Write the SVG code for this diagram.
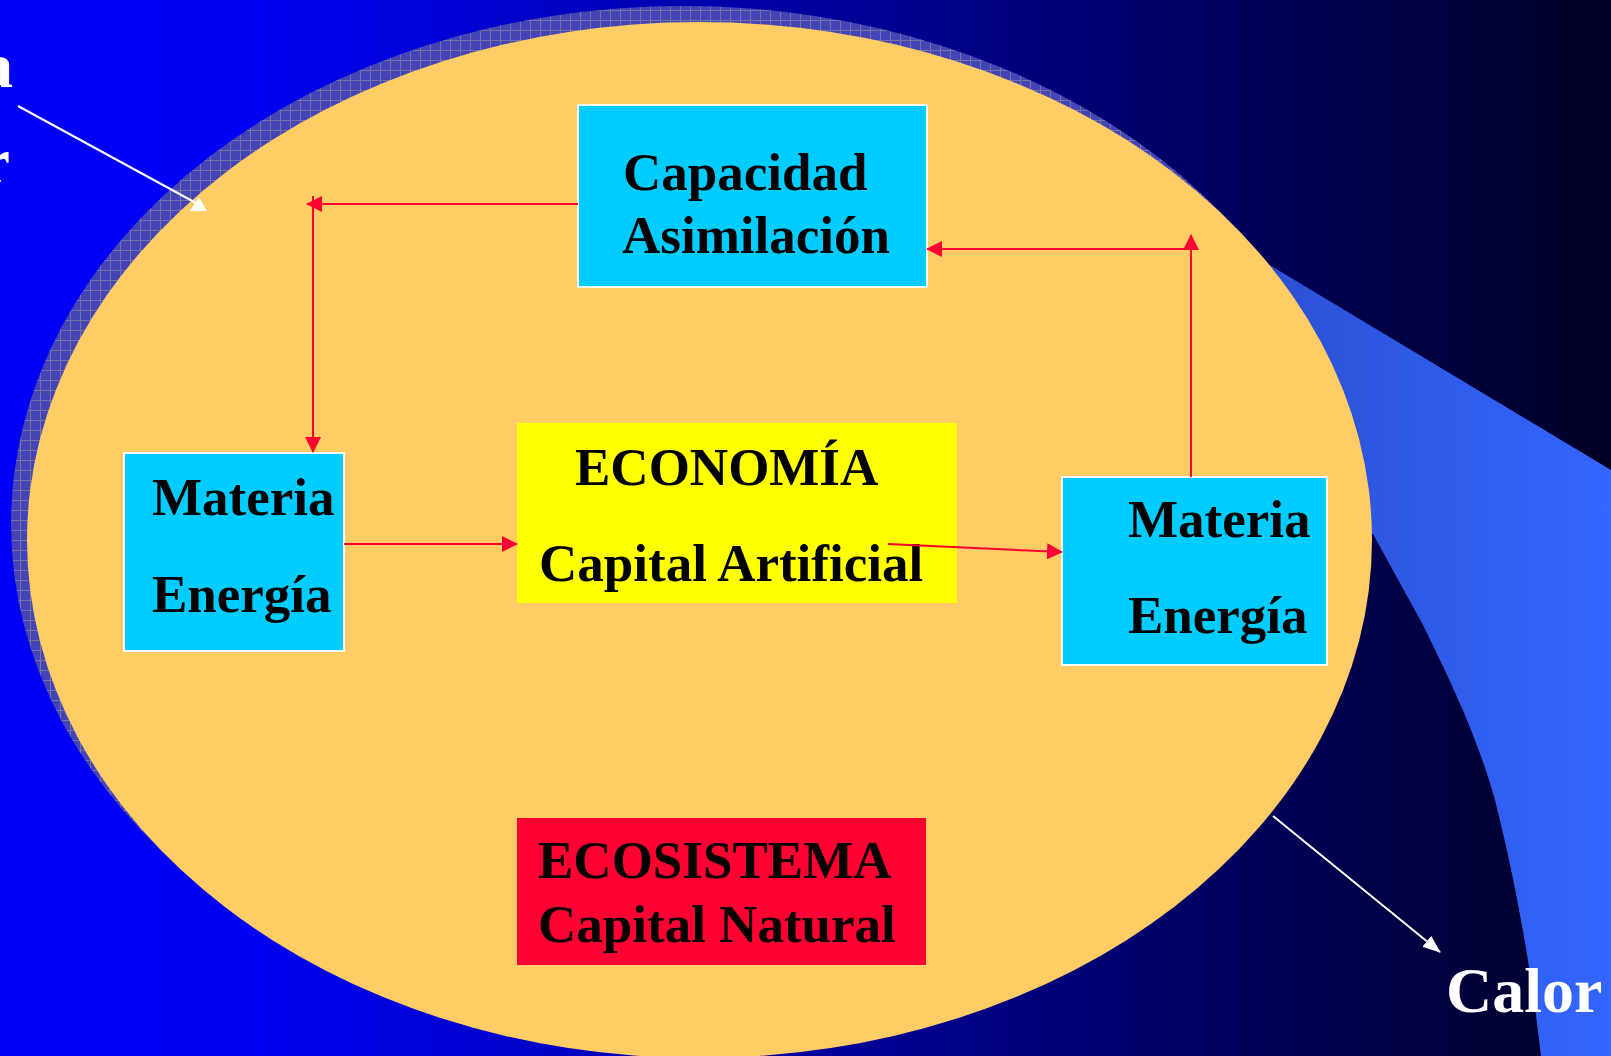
<svg xmlns="http://www.w3.org/2000/svg" width="1611" height="1056" viewBox="0 0 1611 1056">
  <defs>
    <linearGradient id="bg" gradientUnits="userSpaceOnUse" x1="0" y1="0" x2="1611" y2="0">
      <stop offset="0" stop-color="#0000f8"/>
      <stop offset="0.15" stop-color="#0000f4"/>
      <stop offset="1" stop-color="#000024"/>
    </linearGradient>
    <linearGradient id="wedge" gradientUnits="userSpaceOnUse" x1="1260" y1="0" x2="1611" y2="0">
      <stop offset="0" stop-color="#2b50d2"/>
      <stop offset="1" stop-color="#3366ff"/>
    </linearGradient>
    <pattern id="hatch" patternUnits="userSpaceOnUse" width="10" height="10">
      <rect width="10" height="10" fill="#4444b6"/>
      <path d="M0 0.5H10M0.5 0V10" stroke="#7474a4" stroke-width="1"/>
    </pattern>
    <marker id="ar" viewBox="0 0 16 16" refX="15" refY="8" markerWidth="16" markerHeight="16" markerUnits="userSpaceOnUse" orient="auto">
      <path d="M0 0L16 8L0 16Z" fill="#ff0033"/>
    </marker>
    <marker id="aw" viewBox="0 0 18 14" refX="17" refY="7" markerWidth="18" markerHeight="14" markerUnits="userSpaceOnUse" orient="auto">
      <path d="M0 0L18 7L0 14Z" fill="#ffffff"/>
    </marker>
    <style>
      .t { font-family: "Liberation Serif", "Times New Roman", serif; font-weight: bold; font-size: 53px; fill: #000000; }
      .w { font-family: "Liberation Serif", "Times New Roman", serif; font-weight: bold; font-size: 64px; fill: #ffffff; }
      .box { stroke: #ffffff; stroke-width: 2; }
      .cn { fill: none; stroke: #ff0033; stroke-width: 2; }
      .wl { fill: none; stroke: #ffffff; stroke-width: 2; }
    </style>
  </defs>

  <rect x="0" y="0" width="1611" height="1056" fill="url(#bg)"/>
  <path d="M1100 163 L1611 470 L1611 1056 L1541 1056 C1530 960 1515 880 1495 800 C1478 740 1455 690 1423 625 L1373 534 L1300 534 Z" fill="url(#wedge)"/>

  <g id="ecosystem">
    <ellipse cx="683.5" cy="524" rx="672.5" ry="518" fill="url(#hatch)"/>
    <ellipse cx="699.5" cy="540" rx="672.5" ry="518" fill="#ffcc66"/>
  </g>

  <g id="capacidad">
    <rect class="box" x="578" y="105" width="349" height="182" fill="#00ccff"/>
    <text class="t" x="623" y="190">Capacidad</text>
    <text class="t" x="622" y="253">Asimilación</text>
  </g>

  <g id="materia-left">
    <rect class="box" x="124" y="453" width="220" height="198" fill="#00ccff"/>
    <text class="t" x="152" y="515">Materia</text>
    <text class="t" x="152" y="612">Energía</text>
  </g>

  <g id="economia">
    <rect x="517" y="423" width="440" height="180" fill="#ffff00"/>
    <text class="t" x="575" y="485">ECONOMÍA</text>
    <text class="t" x="539" y="581">Capital Artificial</text>
  </g>

  <g id="materia-right">
    <rect class="box" x="1062" y="477" width="265" height="188" fill="#00ccff"/>
    <text class="t" x="1128" y="537">Materia</text>
    <text class="t" x="1128" y="633">Energía</text>
  </g>

  <g id="ecosistema">
    <rect x="517" y="818" width="409" height="147" fill="#ff0033"/>
    <text class="t" x="538" y="878">ECOSISTEMA</text>
    <text class="t" x="538" y="942">Capital Natural</text>
  </g>

  <g id="labels">
    <text class="w" x="13" y="87" text-anchor="end">a</text>
    <text class="w" x="10" y="182" text-anchor="end">r</text>
    <text class="w" x="1446" y="1012">Calor</text>
  </g>

  <g id="connectors">
    <path class="cn" d="M578 204 H307" marker-end="url(#ar)"/>
    <path class="cn" d="M313 196 V452" marker-end="url(#ar)"/>
    <path class="cn" d="M344 544 H517" marker-end="url(#ar)"/>
    <path class="cn" d="M888 544 L1062 552" marker-end="url(#ar)"/>
    <path class="cn" d="M1191 477 V235" marker-end="url(#ar)"/>
    <path class="cn" d="M1191 249 H927" marker-end="url(#ar)"/>
    <path class="wl" d="M18 106 L196 203"/>
    <polygon points="190,211 207,211 199,197" fill="#ffffff"/>
    <path class="wl" d="M1273 816 L1440 952" marker-end="url(#aw)"/>
  </g>
</svg>
